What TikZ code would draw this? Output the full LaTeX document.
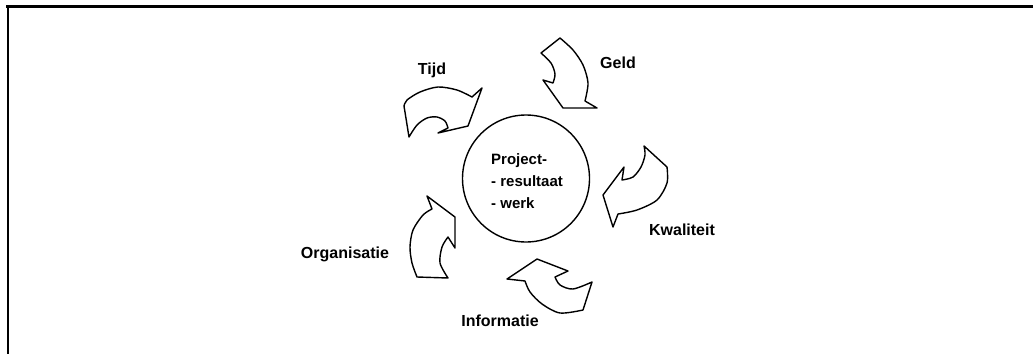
\documentclass[tikz,border=0pt]{standalone}
\usepackage{fontspec}
\setmainfont{Liberation Sans}
\tikzset{
  flow/.style={draw=black, line width=1.4pt, line join=round, fill=white},
  lbl/.style={font=\bfseries\fontsize{16}{18}\selectfont, anchor=base, inner sep=0pt},
  ctrtxt/.style={font=\bfseries\fontsize{15}{17}\selectfont, anchor=base west, inner sep=0pt},
  frameline/.style={draw=black, line cap=butt},
}
\begin{document}
\begin{tikzpicture}[x=1pt,y=-1pt]
\useasboundingbox (0,0) rectangle (1033,354);

% page rules: heavy top rule, thin left rule
\coordinate (tl) at (6,6.5);
\coordinate (tr) at (1033,6.5);
\coordinate (lt) at (8,5);
\coordinate (lb) at (8,354);
\draw[frameline, line width=3pt] (tl) -- (tr);
\draw[frameline, line width=1.8pt] (lt) -- (lb);

% central circle
\node[circle, draw, line width=1.4pt, minimum size=127pt, inner sep=0pt] (core) at (526,178.5) {};
\node[ctrtxt] (l1) at (491,164) {Project-};
\node[ctrtxt] (l2) at (491,186) {- resultaat};
\node[ctrtxt] (l3) at (491,208) {- werk};

% curved block arrows, clockwise round the circle
% Tijd
\draw[flow] plot[smooth] coordinates {(404,106) (407,100) (420,92) (438,87) (457,90) (472,97)}
  -- (482,88) -- (468,126) -- (438,133)
  -- plot[smooth] coordinates {(448,128) (445,121) (437,117) (427,118) (417,125) (409,137)} -- cycle;
% Geld
\draw[flow] plot[smooth] coordinates {(560,38) (573,50) (583,65) (588,83) (585,101)}
  -- (597,108) -- (563,108) -- (543,80)
  -- plot[smooth] coordinates {(553,83) (555,74) (551,63) (541,53)} -- cycle;
% Kwaliteit
\draw[flow] plot[smooth] coordinates {(667,167) (667,183) (657,200) (637,210) (618,214)}
  -- (613,227) -- (603,195) -- (624,167)
  -- plot[smooth] coordinates {(622,180) (633,177) (641,167) (645,155) (644,146)} -- cycle;
% Informatie
\draw[flow] plot[smooth] coordinates {(583,310) (560,313) (542,304) (530,292) (525,281)}
  -- (507,279) -- (537,259) -- (568,271)
  -- plot[smooth] coordinates {(555,277) (560,285) (573,289) (592,282)} -- cycle;
% Organisatie
\draw[flow] plot[smooth] coordinates {(417,277) (412,263) (410,247) (413,230) (423,215) (432,209)}
  -- (427,196) -- (455,217) -- (455,248)
  -- plot[smooth] coordinates {(448,237) (442,247) (440,263) (448,278)} -- cycle;

% labels
\node[lbl] (tijd) at (432,74) {Tijd};
\node[lbl] (geld) at (618,68) {Geld};
\node[lbl] (kwal) at (682,235) {Kwaliteit};
\node[lbl] (org) at (345,258) {Organisatie};
\node[lbl] (info) at (500,326) {Informatie};
\end{tikzpicture}
\end{document}
